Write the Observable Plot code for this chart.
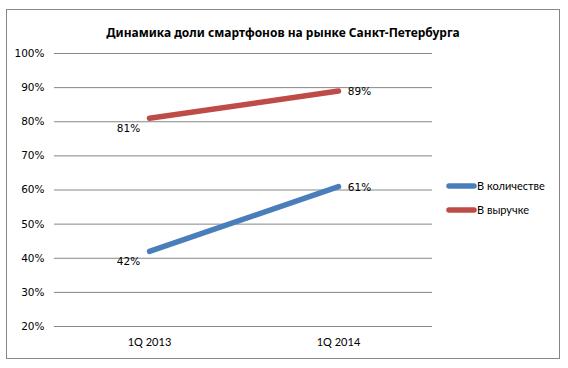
<!DOCTYPE html>
<html>
<head>
<meta charset="utf-8">
<script src="https://cdn.jsdelivr.net/npm/d3@7"></script>
<script src="https://cdn.jsdelivr.net/npm/@observablehq/plot@0.6"></script>
<style>
  html, body { margin: 0; padding: 0; background: #fff; }
  #chart { width: 568px; height: 368px; }
</style>
</head>
<body>
<div id="chart"></div>
<script>
const title = "Динамика доли смартфонов на рынке Санкт-Петербурга";
const quarters = ["1Q 2013", "1Q 2014"];
const seriesNames = ["В количестве", "В выручке"];
const seriesColors = ["#4A7EBB", "#BE4B48"];
const countValues = [42, 61];
const revenueValues = [81, 89];
const yTicks = [20, 30, 40, 50, 60, 70, 80, 90, 100];

const data = [];
quarters.forEach((q, i) => {
  data.push({series: seriesNames[0], quarter: q, value: countValues[i], idx: i});
  data.push({series: seriesNames[1], quarter: q, value: revenueValues[i], idx: i});
});

const labelFont = "'DejaVu Sans', Verdana, sans-serif";
const catFont = "Lato, 'Open Sans', sans-serif";

const plot = Plot.plot({
  width: 568,
  height: 368,
  marginLeft: 54,
  marginRight: 136,
  marginTop: 53,
  marginBottom: 42,
  style: {fontFamily: labelFont, fontSize: "10px", color: "#000", background: "#fff"},
  x: {type: "point", domain: quarters, padding: 0.5, label: null},
  y: {domain: [20, 100], label: null},
  color: {domain: seriesNames, range: seriesColors},
  marks: [
    Plot.gridY(yTicks, {stroke: "#868686", strokeOpacity: 1, strokeWidth: 1}),
    Plot.ruleX([0], {frameAnchor: "left", stroke: "#868686"}),
    Plot.axisY(yTicks, {tickSize: 0, tickPadding: 10, tickFormat: d => d + "%", fontSize: 10.5, fill: "#000"}),
    Plot.axisX({tickSize: 0, tickPadding: 12, fontFamily: catFont, fontSize: 11, fill: "#000"}),
    Plot.line(data, {x: "quarter", y: "value", z: "series", stroke: "series", strokeWidth: 5.5, strokeLinecap: "round"}),
    Plot.text(data.filter(d => d.idx === 0), {x: "quarter", y: "value", text: d => d.value + "%", dx: -21, dy: 10, fontSize: 10.5, fill: "#000"}),
    Plot.text(data.filter(d => d.idx === 1), {x: "quarter", y: "value", text: d => d.value + "%", dx: 21, dy: 1, fontSize: 10.5, fill: "#000"})
  ]
});

const svg = d3.select(plot);
// outer border
svg.insert("rect", ":first-child")
  .attr("x", 6.5).attr("y", 9.5).attr("width", 553).attr("height", 349)
  .attr("fill", "none").attr("stroke", "#868686");

// title
svg.append("text").attr("x", 283).attr("y", 33).attr("dy", "0.35em")
  .attr("text-anchor", "middle")
  .attr("font-family", "'Noto Sans', sans-serif").attr("font-weight", "bold")
  .attr("font-size", 12).attr("fill", "#000").text(title);

// legend
const lg = svg.append("g").attr("text-anchor", "start");
seriesNames.forEach((name, i) => {
  const yy = 186 + i * 24;
  lg.append("line").attr("x1", 449).attr("x2", 474).attr("y1", yy).attr("y2", yy)
    .attr("stroke", seriesColors[i]).attr("stroke-width", 5.5).attr("stroke-linecap", "round");
  lg.append("text").attr("x", 477).attr("y", yy).attr("dy", "0.35em")
    .attr("text-anchor", "start")
    .attr("font-family", catFont).attr("font-size", 11).attr("fill", "#000").text(name);
});

document.getElementById("chart").appendChild(plot);
</script>
</body>
</html>
